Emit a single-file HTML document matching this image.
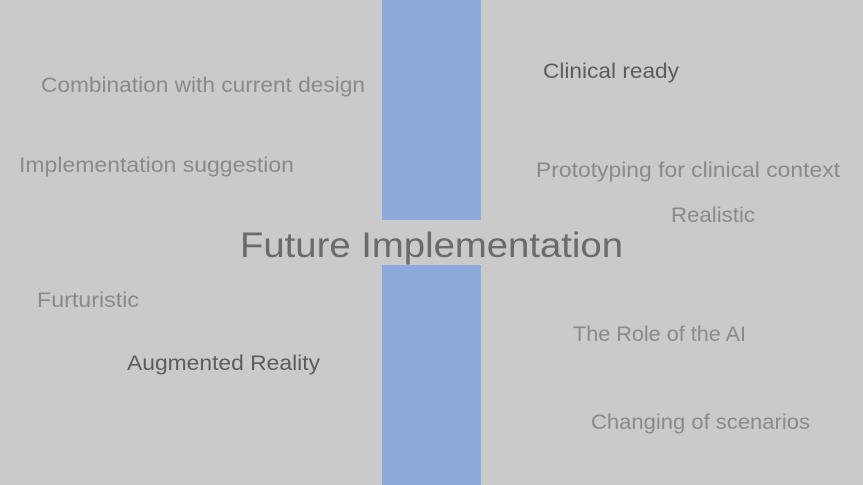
<!DOCTYPE html>
<html><head><meta charset="utf-8"><style>
html,body{margin:0;padding:0;background:#c9cac9;}
svg{display:block;}
text{font-family:"Liberation Sans",sans-serif;}
</style></head><body>
<svg width="863" height="485" viewBox="0 0 863 485">
<rect x="0" y="0" width="863" height="485" fill="#c9cac9"/>
<rect x="382" y="0" width="99" height="220" fill="#8eaadc"/>
<rect x="382" y="265" width="99" height="220" fill="#8eaadc"/>
<text x="240" y="257" font-size="35" fill="#6a6a6a" textLength="383" lengthAdjust="spacingAndGlyphs">Future Implementation</text>
<text x="41" y="92" font-size="21" fill="#8a8a8a" textLength="324" lengthAdjust="spacingAndGlyphs">Combination with current design</text>
<text x="19" y="172" font-size="21" fill="#8a8a8a" textLength="275" lengthAdjust="spacingAndGlyphs">Implementation suggestion</text>
<text x="543" y="78" font-size="21" fill="#5c5c5c" textLength="136" lengthAdjust="spacingAndGlyphs">Clinical ready</text>
<text x="536" y="177" font-size="21" fill="#8a8a8a" textLength="304" lengthAdjust="spacingAndGlyphs">Prototyping for clinical context</text>
<text x="671" y="222" font-size="21" fill="#8a8a8a" textLength="84" lengthAdjust="spacingAndGlyphs">Realistic</text>
<text x="37" y="307" font-size="21" fill="#8a8a8a" textLength="102" lengthAdjust="spacingAndGlyphs">Furturistic</text>
<text x="127" y="370" font-size="21" fill="#5c5c5c" textLength="193" lengthAdjust="spacingAndGlyphs">Augmented Reality</text>
<text x="573" y="341" font-size="21" fill="#8a8a8a" textLength="173" lengthAdjust="spacingAndGlyphs">The Role of the AI</text>
<text x="591" y="429" font-size="21" fill="#8a8a8a" textLength="219" lengthAdjust="spacingAndGlyphs">Changing of scenarios</text>
</svg>
</body></html>
